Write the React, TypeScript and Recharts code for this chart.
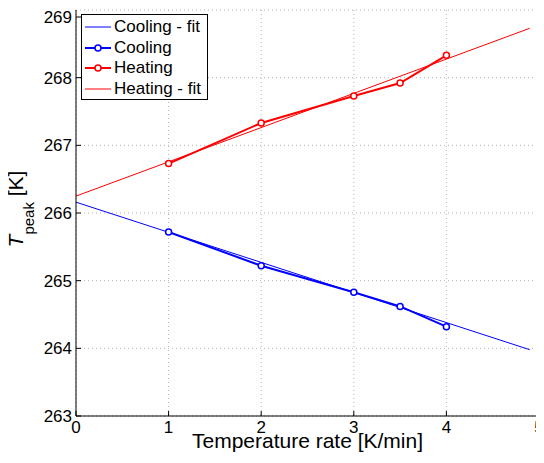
import { LineChart, Line, XAxis, YAxis, CartesianGrid, Legend, Label } from "recharts";

const FONT = '"Liberation Sans", Arial, sans-serif';

// heating / cooling rates [K/min]
const rates = [1, 2, 3, 3.5, 4];
const coolingPeak = [265.72, 265.22, 264.83, 264.62, 264.32];
const heatingPeak = [266.73, 267.33, 267.73, 267.92, 268.33];

// linear fits, read at the ends of the drawn lines
const fitRates = [0, 4.9];
const coolingFit = [266.16, 263.98];
const heatingFit = [266.25, 268.73];

const xTicks = [0, 1, 2, 3, 4, 5];
const yTicks = [263, 264, 265, 266, 267, 268, 269];

const toPoints = (xs: number[], ys: number[]) => xs.map((x, i) => ({ x, y: ys[i] }));

const coolingData = toPoints(rates, coolingPeak);
const heatingData = toPoints(rates, heatingPeak);
const coolingFitData = toPoints(fitRates, coolingFit);
const heatingFitData = toPoints(fitRates, heatingFit);

const legendItems = [
  { name: "Cooling - fit", color: "#0000ff", width: 1, marker: false },
  { name: "Cooling", color: "#0000ff", width: 2, marker: true },
  { name: "Heating", color: "#ff0000", width: 2, marker: true },
  { name: "Heating - fit", color: "#ff0000", width: 1, marker: false },
];

const BottomTick = ({ x, y, payload }: any) => (
  <g>
    <line x1={x} x2={x} y1={y} y2={y - 5} stroke="#000" />
    <text x={x} y={y + 17} textAnchor="middle" fontSize={17} fontFamily={FONT} fill="#000">
      {payload.value}
    </text>
  </g>
);

const LeftTick = ({ x, y, payload }: any) => (
  <g>
    <line x1={x} x2={x + 5} y1={y} y2={y} stroke="#000" />
    <text x={x - 4} y={y} dy="0.36em" textAnchor="end" fontSize={17} fontFamily={FONT} fill="#000">
      {payload.value}
    </text>
  </g>
);

const TopTick = ({ x, y }: any) => <line x1={x} x2={x} y1={y} y2={y + 5} stroke="#000" />;
const RightTick = ({ x, y }: any) => <line x1={x} x2={x - 5} y1={y} y2={y} stroke="#000" />;

const XLabel = ({ viewBox }: any) => (
  <text
    x={viewBox.x + viewBox.width / 2}
    y={viewBox.y + 32}
    textAnchor="middle"
    fontSize={21}
    fontFamily={FONT}
    fill="#000"
  >
    Temperature rate [K/min]
  </text>
);

const YLabel = ({ viewBox }: any) => {
  const cx = viewBox.x + 23;
  const cy = viewBox.y + viewBox.height / 2 - 4;
  return (
    <text
      x={cx}
      y={cy}
      transform={`rotate(-90, ${cx}, ${cy})`}
      textAnchor="middle"
      fontSize={21}
      fontFamily={FONT}
      fill="#000"
    >
      <tspan fontStyle="italic">T</tspan>
      <tspan fontSize={15} dy={11}>peak</tspan>
      <tspan dy={-11}> [K]</tspan>
    </text>
  );
};

const LegendBox = () => (
  <div
    style={{
      border: "1px solid #000",
      background: "#fff",
      padding: "2px 6px 0 3px",
      fontFamily: FONT,
      fontSize: 17,
      color: "#000",
    }}
  >
    {legendItems.map((it) => (
      <div key={it.name} style={{ display: "flex", alignItems: "center", height: 20.5, whiteSpace: "nowrap" }}>
        <svg width={26} height={20} style={{ marginRight: 3 }}>
          <line x1={0} x2={26} y1={10} y2={10} stroke={it.color} strokeWidth={it.width} />
          {it.marker && <circle cx={13} cy={10} r={3} fill="#fff" stroke={it.color} strokeWidth={1.5} />}
        </svg>
        <span>{it.name}</span>
      </div>
    ))}
  </div>
);

export default function App() {
  return (
    <div style={{ width: 544, height: 455, marginLeft: -8, background: "#fff" }}>
      <LineChart width={544} height={455} margin={{ top: 2, right: 5, bottom: 7, left: 0 }}>
        <CartesianGrid stroke="#b4b4b4" strokeDasharray="1 3" />
        <XAxis
          type="number"
          dataKey="x"
          domain={[0, 5]}
          ticks={xTicks}
          height={40}
          allowDataOverflow
          axisLine={{ stroke: "#000" }}
          tickLine={false}
          tickSize={0}
          tickMargin={0}
          tick={<BottomTick />}
        >
          <Label content={<XLabel />} />
        </XAxis>
        <XAxis
          xAxisId="top"
          orientation="top"
          type="number"
          domain={[0, 5]}
          ticks={xTicks}
          height={0}
          axisLine={{ stroke: "#000" }}
          tickLine={false}
          tickSize={0}
          tickMargin={0}
          tick={<TopTick />}
        />
        <YAxis
          type="number"
          domain={[263, 269]}
          ticks={yTicks}
          width={76}
          allowDataOverflow
          axisLine={{ stroke: "#000" }}
          tickLine={false}
          tickSize={0}
          tickMargin={0}
          tick={<LeftTick />}
          label={{ content: <YLabel /> }}
        />
        <YAxis
          yAxisId="right"
          orientation="right"
          type="number"
          domain={[263, 269]}
          ticks={yTicks}
          width={0}
          axisLine={{ stroke: "#000" }}
          tickLine={false}
          tickSize={0}
          tickMargin={0}
          tick={<RightTick />}
        />
        <Line
          data={coolingFitData}
          dataKey="y"
          name="Cooling - fit"
          type="linear"
          stroke="#0000ff"
          strokeWidth={1}
          dot={false}
          activeDot={false}
          isAnimationActive={false}
        />
        <Line
          data={coolingData}
          dataKey="y"
          name="Cooling"
          type="linear"
          stroke="#0000ff"
          strokeWidth={2}
          dot={{ r: 3, fill: "#fff", stroke: "#0000ff", strokeWidth: 1.5 }}
          activeDot={false}
          isAnimationActive={false}
        />
        <Line
          data={heatingData}
          dataKey="y"
          name="Heating"
          type="linear"
          stroke="#ff0000"
          strokeWidth={2}
          dot={{ r: 3, fill: "#fff", stroke: "#ff0000", strokeWidth: 1.5 }}
          activeDot={false}
          isAnimationActive={false}
        />
        <Line
          data={heatingFitData}
          dataKey="y"
          name="Heating - fit"
          type="linear"
          stroke="#ff0000"
          strokeWidth={1}
          dot={false}
          activeDot={false}
          isAnimationActive={false}
        />
        <Legend
          layout="vertical"
          align="center"
          verticalAlign="middle"
          content={<LegendBox />}
          wrapperStyle={{ left: 81, top: 6, width: "auto", height: "auto" }}
        />
      </LineChart>
    </div>
  );
}
